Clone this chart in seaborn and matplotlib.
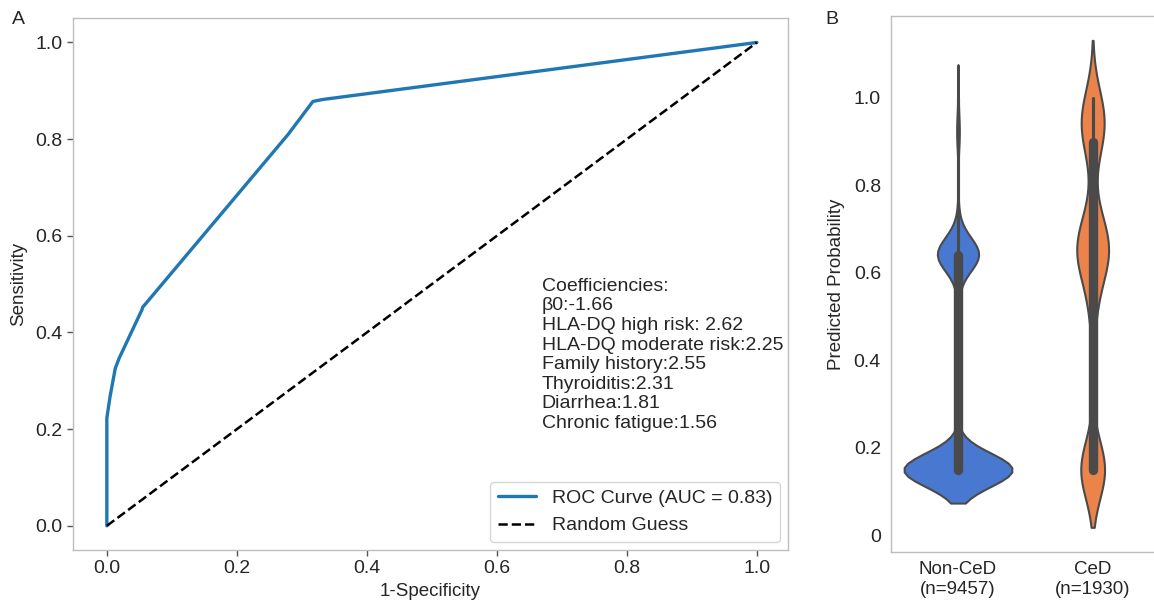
import numpy as np
import pandas as pd
import seaborn as sns
import matplotlib.pyplot as plt


# ROC curve points
fpr = [0.0, 0.0, 0.005, 0.013, 0.019, 0.054, 0.055, 0.279, 0.317, 0.332, 1.0]
tpr = [0.0, 0.223, 0.268, 0.326, 0.347, 0.447, 0.452, 0.810, 0.878, 0.882, 1.0]
roc_label = 'ROC Curve (AUC = 0.83)'
guess_label = 'Random Guess'

coef_lines = [
    'Coefficiencies:',
    'β0:-1.66',
    'HLA-DQ high risk: 2.62',
    'HLA-DQ moderate risk:2.25',
    'Family history:2.55',
    'Thyroiditis:2.31',
    'Diarrhea:1.81',
    'Chronic fatigue:1.56',
]

# predicted probability levels and number of subjects on each (panel B)
noncd_probs = [0.15, 0.48, 0.54, 0.64, 0.66, 0.71, 0.72, 0.92, 0.96, 1.0]
noncd_counts = [6530, 40, 110, 2200, 300, 60, 40, 150, 15, 12]
ced_probs = [0.15, 0.48, 0.54, 0.62, 0.64, 0.66, 0.71, 0.72, 0.85, 0.90, 0.93, 0.95, 0.97, 1.0]
ced_counts = [505, 40, 90, 120, 240, 190, 110, 80, 20, 110, 130, 120, 100, 75]
group_labels = ['Non-CeD\n(n=9457)', 'CeD\n(n=1930)']
group_colors = ['#4878d0', '#ec834b']
prob_ticks = [0, 0.2, 0.4, 0.6, 0.8, 1.0]
prob_ticklabels = ['0', '0.2', '0.4', '0.6', '0.8', '1.0']


sns.set_style('white')
plt.rcParams['font.family'] = ['Liberation Sans', 'DejaVu Sans']
spine_col = '#bdbdbd'

fig = plt.figure(figsize=(11.54, 6.04), dpi=100)
ax1 = fig.add_axes([0.0633, 0.0894, 0.6196, 0.8803])
ax2 = fig.add_axes([0.7718, 0.0866, 0.2334, 0.8869])

# Panel A - ROC
roc = pd.DataFrame({'fpr': fpr, 'tpr': tpr})
sns.lineplot(data=roc, x='fpr', y='tpr', sort=False, estimator=None, color='#1f77b4',
             linewidth=2.4, label=roc_label, ax=ax1)
sns.lineplot(x=[0, 1], y=[0, 1], color='black', linestyle='--', linewidth=1.8,
             label=guess_label, ax=ax1)
ax1.set_xlim(-0.052, 1.048)
ax1.set_ylim(-0.05, 1.05)
ax1.set_xticks(np.arange(0, 1.01, 0.2))
ax1.set_yticks(np.arange(0, 1.01, 0.2))
ax1.tick_params(axis='both', labelsize=14, length=4, width=1, color='#555555', direction='out',
                bottom=True, left=True)
ax1.set_xlabel('1-Specificity', fontsize=13.5, labelpad=4)
ax1.set_ylabel('Sensitivity', fontsize=13.5, labelpad=6)
ax1.text(0.669, 0.513, '\n'.join(coef_lines), fontsize=14, va='top', ha='left',
         linespacing=1.2, transform=ax1.transData)
leg = ax1.legend(loc='lower right', fontsize=14, borderaxespad=0.4, handlelength=2.0)
leg.get_frame().set_edgecolor('#cccccc')
for s in ax1.spines.values():
    s.set_color(spine_col)
    s.set_linewidth(1)

# Panel B - violins (one density scale shared by both groups)
vals = np.concatenate([np.repeat(noncd_probs, noncd_counts), np.repeat(ced_probs, ced_counts)])
grp = [group_labels[0]] * sum(noncd_counts) + [group_labels[1]] * sum(ced_counts)
df = pd.DataFrame({'group': grp, 'prob': vals})
sns.violinplot(data=df, x='group', y='prob', hue='group', order=group_labels, hue_order=group_labels,
               palette=group_colors, saturation=1, inner='box', linewidth=1.5, linecolor='#4a4a4a',
               density_norm='area', common_norm=True,
               inner_kws=dict(color='#4a4a4a', marker=''), legend=False, ax=ax2)
ax2.set_yticks(prob_ticks)
ax2.set_yticklabels(prob_ticklabels)
ax2.tick_params(axis='both', length=0, pad=7)
ax2.tick_params(axis='y', labelsize=14)
ax2.tick_params(axis='x', labelsize=13.5)
ax2.set_xlabel('')
ax2.set_ylabel('Predicted Probability', fontsize=13.5, labelpad=6)
for s in ax2.spines.values():
    s.set_color(spine_col)
    s.set_linewidth(1)

fig.text(18 / 1154, 1 - 19 / 604, 'A', fontsize=14, ha='center', va='center')
fig.text(832 / 1154, 1 - 19 / 604, 'B', fontsize=14, ha='center', va='center')

plt.savefig('out.png', dpi=100)
